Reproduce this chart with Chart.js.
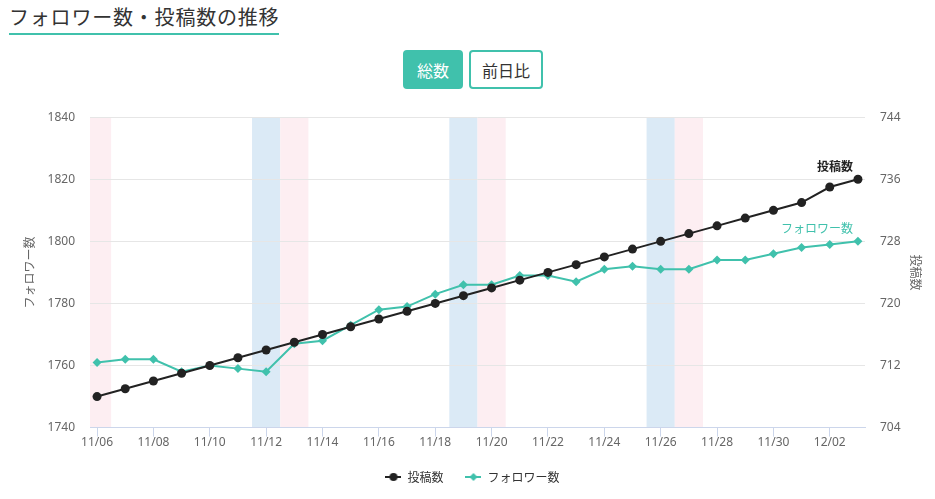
<!DOCTYPE html>
<html lang="ja">
<head>
<meta charset="utf-8">
<title>フォロワー数・投稿数の推移</title>
<script src="https://cdn.jsdelivr.net/npm/chart.js@4.4.0/dist/chart.umd.min.js"></script>
<style>
  html, body { margin: 0; padding: 0; background: #fff; }
  body { width: 935px; height: 499px; position: relative; overflow: hidden; font-family: "Noto Sans CJK JP", "Noto Sans", sans-serif; }
  .title { position: absolute; left: 9px; top: 4px; margin: 0; font-size: 20px; font-weight: 400; color: #333; line-height: 26px; letter-spacing: 0.8px; padding-bottom: 3px; border-bottom: 2px solid #40c1ac; }
  .btns { position: absolute; top: 50px; left: 403px; display: flex; gap: 6px; }
  .btns button { font-family: inherit; font-size: 16px; height: 39px; border-radius: 4px; border: 2px solid #40c1ac; padding: 0; }
  .on { background: #40c1ac; color: #fff; width: 60px; }
  .off { background: #fff; color: #333; width: 74px; }
  .wrap { position: absolute; left: 0; top: 95px; width: 935px; height: 404px; }
</style>
</head>
<body>
<h2 class="title">フォロワー数・投稿数の推移</h2>
<div class="btns"><button class="on">総数</button><button class="off">前日比</button></div>
<div class="wrap"><canvas id="grafico"></canvas></div>

<script>
const dates = ['11/06', '11/07', '11/08', '11/09', '11/10', '11/11', '11/12', '11/13', '11/14', '11/15',
  '11/16', '11/17', '11/18', '11/19', '11/20', '11/21', '11/22', '11/23', '11/24', '11/25',
  '11/26', '11/27', '11/28', '11/29', '11/30', '12/01', '12/02', '12/03'];
const posts = [708, 709, 710, 711, 712, 713, 714, 715, 716, 717, 718, 719, 720, 721, 722, 723,
  724, 725, 726, 727, 728, 729, 730, 731, 732, 733, 735, 736];
const followers = [1761, 1762, 1762, 1758, 1760, 1759, 1758, 1767, 1768, 1773, 1778, 1779, 1783, 1786,
  1786, 1789, 1789, 1787, 1791, 1792, 1791, 1791, 1794, 1794, 1796, 1798, 1799, 1800];
const saturdays = ['11/12', '11/19', '11/26'];
const sundays = ['11/06', '11/13', '11/20', '11/27'];

const NEGRO = '#222222';
const VERDE = '#40c1ac';
const fuente = '"Noto Sans", "Noto Sans CJK JP", sans-serif';
const fuenteJp = '"Noto Sans CJK JP", sans-serif';

function iconoLeyenda(color, forma) {
  const c = document.createElement('canvas');
  c.width = 16;
  c.height = 10;
  const g = c.getContext('2d');
  g.strokeStyle = color;
  g.fillStyle = color;
  g.lineWidth = 2;
  g.beginPath();
  g.moveTo(0, 5);
  g.lineTo(16, 5);
  g.stroke();
  g.beginPath();
  if (forma === 'circle') {
    g.arc(8, 5, 4, 0, Math.PI * 2);
  } else {
    g.moveTo(8, 1); g.lineTo(12, 5); g.lineTo(8, 9); g.lineTo(4, 5); g.closePath();
  }
  g.fill();
  return c;
}

// franjas de fin de semana (sábado azul, domingo rosa)
const franjas = {
  id: 'franjas',
  beforeDraw(chart) {
    const { ctx, chartArea: a, scales: { x } } = chart;
    ctx.save();
    ctx.beginPath();
    ctx.rect(a.left, a.top, a.right - a.left, a.bottom - a.top);
    ctx.clip();
    const pintar = (lista, color) => {
      ctx.fillStyle = color;
      lista.forEach(d => {
        const i = dates.indexOf(d);
        const x0 = x.getPixelForValue(i - 0.5);
        const x1 = x.getPixelForValue(i + 0.5);
        ctx.fillRect(x0, a.top, x1 - x0, a.bottom - a.top);
      });
    };
    pintar(saturdays, '#dbeaf6');
    pintar(sundays, '#fdeef2');
    ctx.restore();
  }
};

// etiqueta al final de cada serie
const etiquetas = {
  id: 'etiquetas',
  afterDatasetsDraw(chart) {
    const ctx = chart.ctx;
    chart.data.datasets.forEach((ds, i) => {
      const meta = chart.getDatasetMeta(i);
      const p = meta.data[meta.data.length - 1];
      ctx.save();
      ctx.font = (i === 0 ? '600 ' : '400 ') + '12px ' + fuenteJp;
      ctx.fillStyle = i === 0 ? NEGRO : VERDE;
      ctx.textAlign = 'right';
      ctx.textBaseline = 'middle';
      ctx.fillText(ds.label, p.x - 5, p.y - 13);
      ctx.restore();
    });
  }
};

const ctx = document.getElementById('grafico').getContext('2d');
new Chart(ctx, {
  type: 'line',
  data: {
    datasets: [{
      label: '投稿数',
      data: posts.map((v, i) => ({ x: i, y: v })),
      yAxisID: 'y2',
      borderColor: NEGRO,
      backgroundColor: NEGRO,
      borderWidth: 2,
      pointStyle: 'circle',
      pointRadius: 4.5,
      pointBorderWidth: 0,
      tension: 0
    }, {
      label: 'フォロワー数',
      data: followers.map((v, i) => ({ x: i, y: v })),
      yAxisID: 'y',
      borderColor: VERDE,
      backgroundColor: VERDE,
      borderWidth: 2,
      pointStyle: 'rectRot',
      pointRadius: 4.5,
      pointBorderWidth: 0,
      tension: 0
    }]
  },
  options: {
    responsive: true,
    maintainAspectRatio: false,
    animation: false,
    layout: { padding: { top: 18, left: 18, right: 8, bottom: 6 } },
    plugins: {
      tooltip: { enabled: false },
      legend: {
        position: 'bottom',
        labels: {
          usePointStyle: true,
          pointStyleWidth: 16,
          padding: 22,
          color: '#333',
          font: { family: fuenteJp, size: 12 },
          generateLabels(chart) {
            return chart.data.datasets.map((ds, i) => ({
              text: ds.label,
              fontColor: '#333',
              pointStyle: iconoLeyenda(ds.borderColor, ds.pointStyle),
              datasetIndex: i,
              hidden: false,
              lineWidth: 0
            }));
          }
        }
      }
    },
    scales: {
      x: {
        type: 'linear',
        min: -0.25,
        max: 27.25,
        afterBuildTicks(scale) {
          scale.ticks = dates.map((d, i) => ({ value: i })).filter(t => t.value % 2 === 0);
        },
        ticks: {
          callback: v => dates[v],
          color: '#666',
          padding: -1,
          maxRotation: 0,
          autoSkip: false,
          font: { family: fuente, size: 12 }
        },
        grid: { drawOnChartArea: false, drawTicks: true, tickLength: 9, color: '#ccd6eb' },
        border: { color: '#ccd6eb' }
      },
      y: {
        position: 'left',
        min: 1740,
        max: 1840,
        afterFit(scale) { scale.width = 72; },
        ticks: { stepSize: 20, padding: 15, color: '#666', callback: v => String(v), font: { family: fuente, size: 12 } },
        grid: { color: '#e6e6e6', drawTicks: false },
        border: { display: false },
        title: { display: true, text: 'フォロワー数', color: '#666', font: { family: fuenteJp, size: 12 }, padding: { top: 4, bottom: 10 } }
      },
      y2: {
        position: 'right',
        min: 704,
        max: 744,
        afterFit(scale) { scale.width = 62; },
        ticks: { stepSize: 8, padding: 15, color: '#666', callback: v => String(v), font: { family: fuente, size: 12 } },
        grid: { drawOnChartArea: false, drawTicks: false },
        border: { display: false },
        title: { display: true, text: '投稿数', color: '#666', font: { family: fuenteJp, size: 12 }, padding: { top: 4, bottom: 4 } }
      }
    }
  },
  plugins: [franjas, etiquetas]
});
</script>
</body>
</html>
